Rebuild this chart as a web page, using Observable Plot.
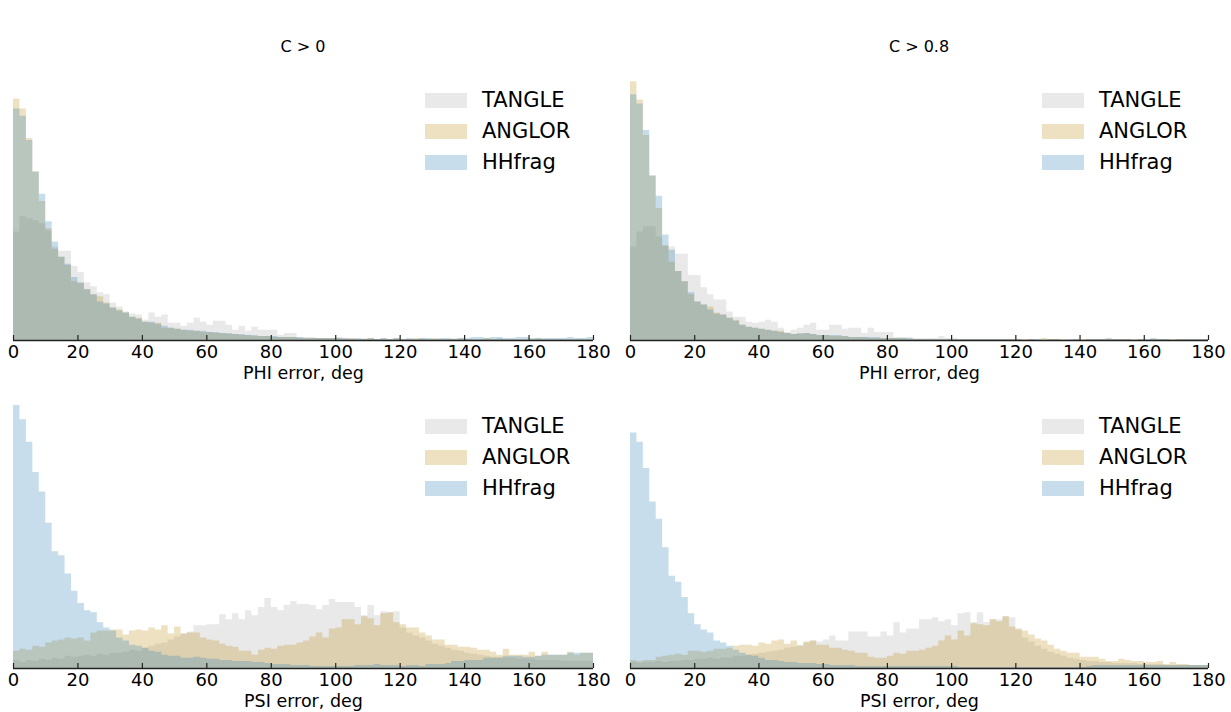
<!DOCTYPE html>
<html><head><meta charset="utf-8">
<script src="https://cdn.jsdelivr.net/npm/d3@7"></script>
<script src="https://cdn.jsdelivr.net/npm/@observablehq/plot@0.6"></script>
<style>
body{margin:0;background:#fff;font-family:"DejaVu Sans",sans-serif;}
#fig{position:relative;width:1231px;height:712px;overflow:hidden;background:#fff}
.panel{position:absolute}
.title{position:absolute;font-size:16px;transform:translate(-50%,-50%);white-space:nowrap;color:#000}
.legend{position:absolute;font-size:21px;color:#000}
.legend .row{position:absolute;left:0;display:flex;align-items:center;height:30px;transform:translateY(-50%);white-space:nowrap}
.legend .sw{width:42px;height:15px;margin-right:15px;opacity:0.25}
</style></head><body><div id="fig"></div>
<script>
// ---- data: histogram counts per 2-degree bin (0..180) ----
const binWidth = 2;
const xTicks = [0,20,40,60,80,100,120,140,160,180];
const seriesNames = ["TANGLE","ANGLOR","HHfrag"];
const seriesColors = ["#a9a9a9","#b8860b","#1f77b4"];
const panelTitles = ["C > 0","C > 0.8"];
const xLabels = ["PHI error, deg","PSI error, deg"];

const phiC0_tangle = [107,122,120,118,115,108,92,88,88,73, 67,57,53,47,45,37,33,28,26,25, 20,27,23,25,17,17,14,17,22,18, 15,19,19,15,10,14,9,13,10,10, 10,5,7,7,3,3,3,2,2,2, 3,2,2,1,2,1,1,2,1,1, 1,1,1,2,1,1,1,1,2,1, 1,1,1,1,1,2,1,1,1,1, 1,1,1,1,1,1,1,1,1,1];
const phiC0_anglor = [238,228,199,166,137,110,90,82,74,58, 56,50,45,43,37,32,30,27,23,22, 18,17,17,12,12,11,10,9,9,8, 8,7,7,6,6,5,5,4,4,4, 3,3,3,3,2,2,2,2,2,2, 2,1,2,1,1,2,1,1,1,2, 1,1,2,1,1,2,1,1,1,2, 1,1,1,2,1,1,1,1,1,1, 1,2,1,1,1,1,1,1,1,1];
const phiC0_hhfrag = [228,221,197,166,144,117,97,82,75,62, 57,50,45,38,36,32,29,27,23,21, 18,18,16,14,12,11,10,10,9,9, 8,8,7,7,6,6,5,5,4,4, 4,3,3,3,3,2,2,2,2,2, 2,2,1,2,1,2,1,2,1,2, 1,2,1,2,2,1,2,2,1,2, 2,3,3,2,3,3,2,2,3,3, 2,2,2,2,2,2,3,2,2,3];

const phiC8_tangle = [92,107,112,112,102,93,92,85,85,64, 64,52,45,40,40,28,23,23,18,17, 18,20,18,12,8,10,12,15,17,10, 10,15,15,11,12,12,7,12,8,8, 8,3,3,3,2,2,2,2,4,2, 2,1,1,1,1,1,1,1,1,1, 1,1,1,1,1,1,1,1,1,1, 1,1,1,1,1,1,1,1,1,1, 1,1,1,1,1,1,1,1,1,1];
const phiC8_anglor = [255,237,202,162,130,93,77,68,58,45, 38,35,33,27,25,22,20,15,13,12, 11,10,9,9,7,6,6,7,6,5, 5,4,4,4,3,3,3,2,2,2, 2,2,2,1,1,1,1,1,1,1, 1,1,1,1,1,1,1,1,1,1, 1,1,1,0,2,1,1,1,0,1, 1,1,1,1,1,1,1,1,1,1, 0,1,1,1,1,1,1,1,1,1];
const phiC8_hhfrag = [242,233,207,162,142,104,89,68,58,47, 38,35,30,26,25,22,19,15,13,12, 11,10,9,8,7,6,7,7,6,5, 5,5,5,4,3,3,3,3,3,2, 2,2,2,2,1,1,1,1,1,1, 1,1,1,1,1,1,1,1,1,1, 1,0,1,1,0,1,1,0,1,1, 0,1,1,1,2,1,1,1,0,1, 1,2,1,1,0,1,1,1,1,1];

const psiC0_tangle = [8,6,8,7,9,8,10,9,12,11, 12,13,12,14,13,15,15,16,18,17, 20,22,24,25,28,31,34,36,42,42, 43,43,53,48,54,48,57,52,60,69, 60,57,62,66,63,63,62,58,62,68, 65,65,65,60,52,62,52,56,55,56, 40,35,32,30,27,24,22,20,18,17, 15,14,13,12,11,11,10,10,9,9, 9,8,8,8,8,7,7,7,7,7];
const psiC0_anglor = [17,19,18,22,21,25,27,28,30,29, 30,27,35,37,37,38,38,33,37,38, 37,40,38,42,34,41,34,35,35,30, 28,27,24,22,21,17,17,13,18,20, 19,22,23,23,25,27,31,35,30,39, 40,48,48,43,51,49,42,54,55,45, 43,40,40,35,32,28,28,23,23,21, 21,20,18,18,16,13,19,13,13,13, 16,12,16,13,13,13,16,13,15,15];
const psiC0_hhfrag = [259,245,223,193,174,143,115,111,93,76, 64,57,55,45,40,37,30,27,23,22, 20,17,16,13,12,12,10,10,11,10, 9,9,8,8,7,7,7,6,6,5, 4,4,4,3,3,3,2,2,2,2, 2,2,2,3,3,3,4,3,3,3, 2,3,3,2,4,4,4,5,7,7, 8,8,8,10,10,10,12,12,12,11, 11,12,13,13,13,13,15,15,15,15];

const psiC8_tangle = [6,5,6,6,7,6,7,7,8,8, 9,9,10,9,10,10,12,12,13,14, 15,16,17,18,20,21,23,25,27,26, 28,32,27,27,36,36,36,31,31,36, 32,45,35,39,39,48,48,50,46,48, 42,54,55,45,55,45,48,48,51,50, 38,30,26,22,19,16,14,12,10,9, 8,7,7,6,6,5,5,5,5,4, 4,4,4,3,3,3,3,3,3,3];
const psiC8_anglor = [8,7,8,8,11,12,13,14,13,17, 17,16,17,19,19,20,22,23,23,22, 25,24,27,28,24,27,22,26,27,23, 23,20,20,18,17,15,15,11,10,10, 12,15,14,17,17,18,20,22,27,32, 28,37,32,44,43,42,48,46,51,41, 39,37,33,29,27,23,19,17,15,15, 11,11,11,9,7,7,9,8,7,7, 6,6,7,4,6,4,4,3,3,3];
const psiC8_hhfrag = [232,223,197,164,147,119,91,85,70,54, 43,38,35,27,25,22,18,15,13,12, 10,8,8,7,6,6,5,5,5,4, 4,3,3,3,3,2,2,2,2,2, 2,2,2,2,2,2,2,2,2,2, 2,1,1,1,1,1,1,1,1,1, 1,1,1,1,1,1,1,1,1,1, 1,2,3,3,3,3,3,3,3,3, 3,3,3,3,3,3,3,3,3,3];

// ---- layout ----
const fig = document.getElementById("fig");
const FRAME_H = 270;
const panels = [
  {series:[phiC0_tangle,phiC0_anglor,phiC0_hhfrag], col:0, row:0},
  {series:[phiC8_tangle,phiC8_anglor,phiC8_hhfrag], col:1, row:0},
  {series:[psiC0_tangle,psiC0_anglor,psiC0_hhfrag], col:0, row:1},
  {series:[psiC8_tangle,psiC8_anglor,psiC8_hhfrag], col:1, row:1}
];
const colGeo = [{left:0, width:615, ml:13, mr:22}, {left:615, width:616, ml:15, mr:23}];
const rowGeo = [{top:70, height:320, mb:50}, {top:398, height:314, mb:44}];

// step outline points: left edge of every bin, plus the closing right edge
function toSteps(series){
  const rows = [];
  series.forEach((vals, s) => {
    vals.forEach((v, i) => rows.push({series: seriesNames[s], x: i*binWidth, count: v}));
    rows.push({series: seriesNames[s], x: vals.length*binWidth, count: vals[vals.length-1]});
  });
  return rows;
}

panels.forEach(p => {
  const c = colGeo[p.col], r = rowGeo[p.row];
  const rows = toSteps(p.series);
  const chart = Plot.plot({
    width: c.width, height: r.height,
    marginLeft: c.ml, marginRight: c.mr, marginTop: r.height - r.mb - FRAME_H, marginBottom: r.mb,
    style: {fontFamily: "DejaVu Sans, sans-serif", background: "transparent", overflow: "visible"},
    x: {domain: [0, 180], label: null},
    y: {domain: [0, FRAME_H - 4], axis: null},
    color: {domain: seriesNames, range: seriesColors},
    marks: [
      Plot.areaY(rows, {x: "x", y1: 0, y2: "count", z: "series", fill: "series", fillOpacity: 0.25, curve: "step-after"}),
      Plot.ruleY([0], {stroke: "#222", strokeWidth: 1.3}),
      Plot.tickX(xTicks, {x: d => d, insetTop: FRAME_H - 5, stroke: "#222", strokeWidth: 1.2}),
      Plot.axisX({ticks: xTicks, tickSize: 0, tickPadding: 5, fontSize: 18, label: null, fill: "#000"}),
      Plot.text([xLabels[p.row]], {text: d => d, frameAnchor: "bottom", dy: 38, fontSize: 17.5, fill: "#000"})
    ]
  });
  const div = document.createElement("div");
  div.className = "panel";
  div.style.left = c.left + "px"; div.style.top = r.top + "px";
  div.appendChild(chart);
  fig.appendChild(div);

  // legend
  const lg = document.createElement("div");
  lg.className = "legend";
  lg.style.left = (c.left + c.ml + 412) + "px";
  lg.style.top = (p.row === 0 ? 100 : 426) + "px";
  seriesNames.forEach((name, i) => {
    const row = document.createElement("div");
    row.className = "row";
    row.style.top = (i * 31) + "px";
    const sw = document.createElement("div");
    sw.className = "sw"; sw.style.background = seriesColors[i];
    const tx = document.createElement("span"); tx.textContent = name;
    row.appendChild(sw); row.appendChild(tx);
    lg.appendChild(row);
  });
  fig.appendChild(lg);
});

panelTitles.forEach((t, i) => {
  const d = document.createElement("div");
  d.className = "title";
  d.textContent = t;
  d.style.left = (i === 0 ? 303 : 919) + "px";
  d.style.top = "46px";
  fig.appendChild(d);
});
</script>
</body></html>
